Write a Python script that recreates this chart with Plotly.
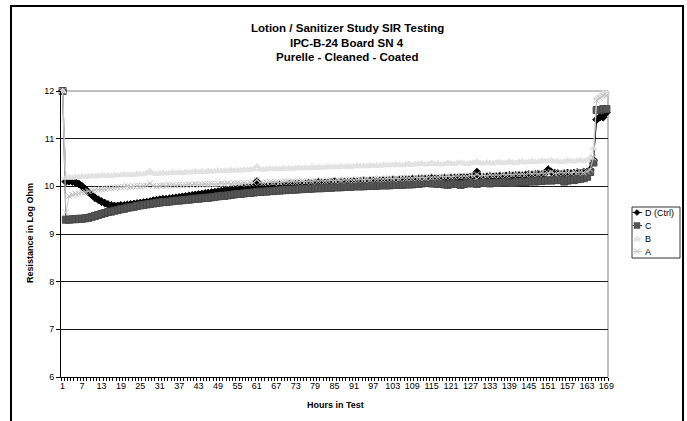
import plotly.graph_objects as go

# ---------------- data ----------------
hours = list(range(1, 170))
tick_hours = list(range(1, 170, 6))

d_ctrl = [12.00,
          10.10, 10.11, 10.10, 10.08, 10.05,
          10.00, 9.94, 9.88, 9.82, 9.76, 9.72,
          9.68, 9.65, 9.62, 9.60, 9.59, 9.59,
          9.60, 9.60, 9.61, 9.62, 9.63, 9.64,
          9.65, 9.66, 9.67, 9.68, 9.70, 9.71,
          9.72, 9.73, 9.73, 9.74, 9.75, 9.76,
          9.77, 9.78, 9.79, 9.80, 9.81, 9.82,
          9.83, 9.84, 9.85, 9.86, 9.87, 9.88,
          9.89, 9.90, 9.91, 9.92, 9.93, 9.94,
          9.95, 9.95, 9.96, 9.97, 9.97, 9.98,
          10.10, 10.02, 10.00, 10.00, 10.01, 10.02,
          10.02, 10.03, 10.02, 10.03, 10.04, 10.03,
          10.04, 10.05, 10.04, 10.05, 10.06, 10.05,
          10.06, 10.08, 10.06, 10.07, 10.07, 10.08,
          10.10, 10.07, 10.08, 10.09, 10.08, 10.09,
          10.10, 10.09, 10.10, 10.11, 10.10, 10.11,
          10.12, 10.10, 10.11, 10.12, 10.11, 10.12,
          10.13, 10.12, 10.13, 10.14, 10.13, 10.14,
          10.15, 10.14, 10.15, 10.16, 10.15, 10.16,
          10.17, 10.16, 10.15, 10.16, 10.17, 10.16,
          10.17, 10.18, 10.17, 10.18, 10.19, 10.18,
          10.20, 10.22, 10.30, 10.20, 10.19, 10.20,
          10.21, 10.20, 10.21, 10.22, 10.21, 10.22,
          10.23, 10.22, 10.23, 10.24, 10.23, 10.24,
          10.25, 10.24, 10.25, 10.26, 10.25, 10.27,
          10.35, 10.30, 10.28, 10.27, 10.26, 10.27,
          10.28, 10.27, 10.28, 10.29, 10.28, 10.30,
          10.30, 10.35, 10.55, 11.40, 11.45, 11.45, 11.55]

c_vals = [12.00,
          9.30, 9.30, 9.31, 9.31, 9.32, 9.32,
          9.33, 9.34, 9.36, 9.38, 9.40, 9.42,
          9.44, 9.46, 9.47, 9.49, 9.50, 9.52,
          9.53, 9.55, 9.56, 9.57, 9.59, 9.60,
          9.61, 9.62, 9.63, 9.64, 9.65, 9.66,
          9.67, 9.67, 9.68, 9.69, 9.70, 9.70,
          9.71, 9.72, 9.72, 9.73, 9.74, 9.74,
          9.75, 9.76, 9.76, 9.77, 9.78, 9.79,
          9.80, 9.80, 9.81, 9.82, 9.83, 9.84,
          9.84, 9.85, 9.86, 9.86, 9.87, 9.88,
          9.88, 9.89, 9.89, 9.90, 9.90, 9.91,
          9.91, 9.92, 9.92, 9.93, 9.93, 9.93,
          9.94, 9.94, 9.95, 9.95, 9.95, 9.96,
          9.96, 9.96, 9.97, 9.97, 9.97, 9.98,
          9.98, 9.98, 9.99, 9.99, 9.99, 10.00,
          10.00, 10.00, 10.00, 10.01, 10.01, 10.01,
          10.01, 10.02, 10.02, 10.02, 10.02, 10.03,
          10.03, 10.03, 10.03, 10.04, 10.04, 10.04,
          10.05, 10.05, 10.06, 10.08, 10.07, 10.06,
          10.06, 10.05, 10.06, 10.04, 10.03, 10.05,
          10.06, 10.05, 10.03, 10.05, 10.06, 10.07,
          10.06, 10.05, 10.07, 10.08, 10.07, 10.06,
          10.07, 10.08, 10.07, 10.08, 10.09, 10.08,
          10.07, 10.08, 10.09, 10.10, 10.09, 10.10,
          10.11, 10.10, 10.12, 10.11, 10.12, 10.13,
          10.12, 10.13, 10.14, 10.13, 10.10, 10.12,
          10.14, 10.13, 10.15, 10.16, 10.17, 10.20,
          10.30, 10.50, 11.60, 11.60, 11.62, 11.62]

b_vals = [12.00,
          10.18, 10.19, 10.18, 10.20, 10.19, 10.21, 10.20, 10.21, 10.22, 10.21,
          10.22, 10.23, 10.22, 10.23, 10.22, 10.24, 10.23, 10.24, 10.25, 10.24,
          10.25, 10.24, 10.26, 10.25, 10.26, 10.28, 10.32, 10.27, 10.26, 10.27,
          10.28, 10.27, 10.28, 10.29, 10.28, 10.29, 10.28, 10.30, 10.29, 10.30,
          10.31, 10.30, 10.31, 10.30, 10.32, 10.31, 10.32, 10.33, 10.32, 10.33,
          10.32, 10.34, 10.33, 10.34, 10.33, 10.35, 10.34, 10.35, 10.36, 10.42,
          10.36, 10.35, 10.36, 10.37, 10.36, 10.37, 10.36, 10.38, 10.37, 10.38,
          10.37, 10.38, 10.39, 10.38, 10.39, 10.38, 10.40, 10.39, 10.40, 10.39,
          10.40, 10.41, 10.40, 10.41, 10.40, 10.42, 10.41, 10.42, 10.41, 10.42,
          10.43, 10.42, 10.43, 10.42, 10.44, 10.43, 10.44, 10.43, 10.45, 10.44,
          10.45, 10.44, 10.46, 10.45, 10.44, 10.46, 10.47, 10.45, 10.46, 10.47,
          10.48, 10.46, 10.47, 10.49, 10.47, 10.48, 10.46, 10.47, 10.49, 10.48,
          10.47, 10.49, 10.50, 10.48, 10.47, 10.49, 10.50, 10.52, 10.49, 10.48,
          10.50, 10.49, 10.48, 10.50, 10.51, 10.49, 10.50, 10.52, 10.50, 10.49,
          10.51, 10.52, 10.50, 10.51, 10.53, 10.51, 10.52, 10.54, 10.52, 10.53,
          10.55, 10.52, 10.53, 10.51, 10.52, 10.54, 10.53, 10.52, 10.54, 10.55,
          10.53, 10.55, 10.60, 10.80, 11.85, 11.90, 11.95, 11.95]

a_vals = [12.00,
          9.45, 9.80, 9.82, 9.84, 9.85, 9.87, 9.88, 9.90, 9.91, 9.92,
          9.93, 9.94, 9.95, 9.96, 9.96, 9.97, 9.98, 9.98, 9.99, 10.00,
          9.99, 10.00, 10.01, 10.00, 10.01, 10.02, 10.06, 10.01, 10.00, 10.01,
          10.02, 10.01, 10.02, 10.03, 10.02, 10.03, 10.02, 10.03, 10.04, 10.03,
          10.04, 10.03, 10.04, 10.05, 10.04, 10.05, 10.04, 10.05, 10.06, 10.05,
          10.06, 10.05, 10.06, 10.07, 10.06, 10.07, 10.06, 10.07, 10.08, 10.14,
          10.08, 10.07, 10.08, 10.09, 10.08, 10.09, 10.08, 10.09, 10.10, 10.09,
          10.10, 10.09, 10.10, 10.11, 10.10, 10.11, 10.10, 10.12, 10.11, 10.12,
          10.11, 10.12, 10.13, 10.12, 10.13, 10.12, 10.14, 10.13, 10.14, 10.13,
          10.14, 10.15, 10.14, 10.15, 10.14, 10.16, 10.15, 10.16, 10.15, 10.16,
          10.17, 10.16, 10.17, 10.16, 10.18, 10.17, 10.18, 10.17, 10.19, 10.18,
          10.19, 10.18, 10.20, 10.19, 10.20, 10.19, 10.21, 10.20, 10.21, 10.20,
          10.21, 10.22, 10.21, 10.22, 10.21, 10.23, 10.22, 10.25, 10.22, 10.23,
          10.22, 10.24, 10.23, 10.24, 10.23, 10.25, 10.24, 10.25, 10.24, 10.26,
          10.25, 10.26, 10.25, 10.27, 10.26, 10.27, 10.26, 10.28, 10.27, 10.28,
          10.30, 10.27, 10.28, 10.29, 10.28, 10.29, 10.28, 10.30, 10.29, 10.30,
          10.29, 10.31, 10.35, 10.60, 11.80, 11.85, 11.90, 11.90]

series_names = ["D (Ctrl)", "C", "B", "A"]
title_lines = ["Lotion / Sanitizer Study SIR Testing",
               "IPC-B-24 Board SN 4",
               "Purelle - Cleaned - Coated"]

# ---------------- layout geometry (pixels) ----------------
W, H = 687, 421
L, R, T, B = 61, 608, 91, 377
FONT = "Liberation Sans, Arial, sans-serif"


def px(x):
    return (x - L) / (R - L)


def py(y):
    return (B - y) / (B - T)


def path(points, close=True):
    s = "M " + " L ".join(f"{px(x):.5f},{py(y):.5f}" for x, y in points)
    return s + (" Z" if close else "")


styles = {
    "D (Ctrl)": dict(line="#000000", mk="diamond", mkcolor="#000000", mkline="#000000", size=6),
    "C": dict(line="#333333", mk="square", mkcolor="#555555", mkline="#484848", size=7),
    "B": dict(line="#e2e2e2", mk="triangle-up", mkcolor="#e2e2e2", mkline="#e2e2e2", size=6),
    "A": dict(line="#c6c6c6", mk="x-thin", mkcolor="#bdbdbd", mkline="#bdbdbd", size=6),
}

fig = go.Figure()
for name, vals in zip(series_names, [d_ctrl, c_vals, b_vals, a_vals]):
    st = styles[name]
    fig.add_trace(go.Scatter(
        x=hours, y=vals, name=name, mode="lines+markers",
        line=dict(color=st["line"], width=1),
        marker=dict(symbol=st["mk"], size=st["size"], color=st["mkcolor"],
                    line=dict(color=st["mkline"], width=1)),
        cliponaxis=False))

shapes = []
# outer chart frame
shapes.append(dict(type="rect", xref="paper", yref="paper",
                   x0=px(11), x1=px(683), y0=py(440), y1=py(6),
                   line=dict(color="black", width=2), layer="below"))
# plot area border (grey top and right)
shapes.append(dict(type="line", xref="paper", yref="paper", x0=0, x1=1, y0=1, y1=1,
                   line=dict(color="#808080", width=1), layer="between"))
shapes.append(dict(type="line", xref="paper", yref="paper", x0=1, x1=1, y0=0, y1=1,
                   line=dict(color="#808080", width=1), layer="between"))

# legend box
shapes.append(dict(type="rect", xref="paper", yref="paper",
                   x0=px(632), x1=px(680), y0=py(258), y1=py(207),
                   line=dict(color="#333333", width=1), fillcolor="white", layer="above"))

annotations = []
leg_y = [212.5, 225.5, 238.5, 251.5]
for name, yc in zip(series_names, leg_y):
    st = styles[name]
    shapes.append(dict(type="line", xref="paper", yref="paper",
                       x0=px(632.5), x1=px(642), y0=py(yc), y1=py(yc),
                       line=dict(color=st["line"], width=1), layer="above"))
    cx = 637
    if st["mk"] == "diamond":
        shapes.append(dict(type="path", xref="paper", yref="paper",
                           path=path([(cx, yc - 3), (cx + 3, yc), (cx, yc + 3), (cx - 3, yc)]),
                           fillcolor=st["mkcolor"], line=dict(color=st["mkline"], width=0.5), layer="above"))
    elif st["mk"] == "square":
        shapes.append(dict(type="path", xref="paper", yref="paper",
                           path=path([(cx - 3, yc - 3), (cx + 3, yc - 3), (cx + 3, yc + 3), (cx - 3, yc + 3)]),
                           fillcolor=st["mkcolor"], line=dict(color=st["mkline"], width=0.5), layer="above"))
    elif st["mk"] == "triangle-up":
        shapes.append(dict(type="path", xref="paper", yref="paper",
                           path=path([(cx, yc - 3), (cx + 3.5, yc + 2.5), (cx - 3.5, yc + 2.5)]),
                           fillcolor=st["mkcolor"], line=dict(color=st["mkline"], width=0.5), layer="above"))
    else:
        shapes.append(dict(type="path", xref="paper", yref="paper",
                           path=path([(cx - 3, yc - 3), (cx + 3, yc + 3)], close=False),
                           line=dict(color=st["mkline"], width=1), layer="above"))
        shapes.append(dict(type="path", xref="paper", yref="paper",
                           path=path([(cx - 3, yc + 3), (cx + 3, yc - 3)], close=False),
                           line=dict(color=st["mkline"], width=1), layer="above"))
    annotations.append(dict(xref="paper", yref="paper", x=px(642.5), y=py(yc),
                            xanchor="left", yanchor="middle", showarrow=False,
                            text=name, font=dict(family=FONT, size=9, color="black")))

# title lines
for line_txt, yc in zip(title_lines, [28, 42.5, 56.5]):
    annotations.append(dict(xref="paper", yref="paper", x=px(347), y=py(yc),
                            xanchor="center", yanchor="middle", showarrow=False,
                            text=f"<b>{line_txt}</b>",
                            font=dict(family=FONT, size=11.5, color="black")))

# axis titles
annotations.append(dict(xref="paper", yref="paper", x=px(335), y=py(405),
                        xanchor="center", yanchor="middle", showarrow=False,
                        text="<b>Hours in Test</b>", font=dict(family=FONT, size=9, color="black")))
annotations.append(dict(xref="paper", yref="paper", x=px(30), y=py(233),
                        xanchor="center", yanchor="middle", showarrow=False, textangle=-90,
                        text="<b>Resistance in Log Ohm</b>", font=dict(family=FONT, size=9, color="black")))

fig.update_layout(
    width=W, height=H,
    margin=dict(l=L, r=W - R, t=T, b=H - B, pad=0),
    paper_bgcolor="white", plot_bgcolor="white",
    showlegend=False, hovermode=False,
    font=dict(family=FONT, color="black", size=9),
    shapes=shapes, annotations=annotations,
)
fig.update_xaxes(
    range=[0.5, 169.5], tickmode="array", tickvals=tick_hours,
    ticktext=[str(v) for v in tick_hours], ticks="",
    showgrid=False, zeroline=False, showline=True, linecolor="black", linewidth=1,
    tickfont=dict(family=FONT, size=9, color="black"), ticklabelstandoff=0,
    minor=dict(tickmode="linear", tick0=0.5, dtick=1, ticks="outside", ticklen=3,
               tickcolor="black", tickwidth=1, showgrid=False),
)
fig.update_yaxes(
    range=[6, 12], tickmode="array", tickvals=[6, 7, 8, 9, 10, 11, 12],
    ticks="outside", ticklen=4, tickcolor="black", tickwidth=1,
    showgrid=True, gridcolor="#1a1a1a", gridwidth=1, zeroline=False,
    showline=True, linecolor="black", linewidth=1,
    tickfont=dict(family=FONT, size=9, color="black"),
)

# remove the browser's default 8px page margin so the figure sits at (0, 0)
fig.write_html("out.html",
               config={"displayModeBar": False, "staticPlot": True},
               post_script="document.body.style.margin='0';document.body.style.padding='0';"
                           "document.body.style.overflow='hidden';")
